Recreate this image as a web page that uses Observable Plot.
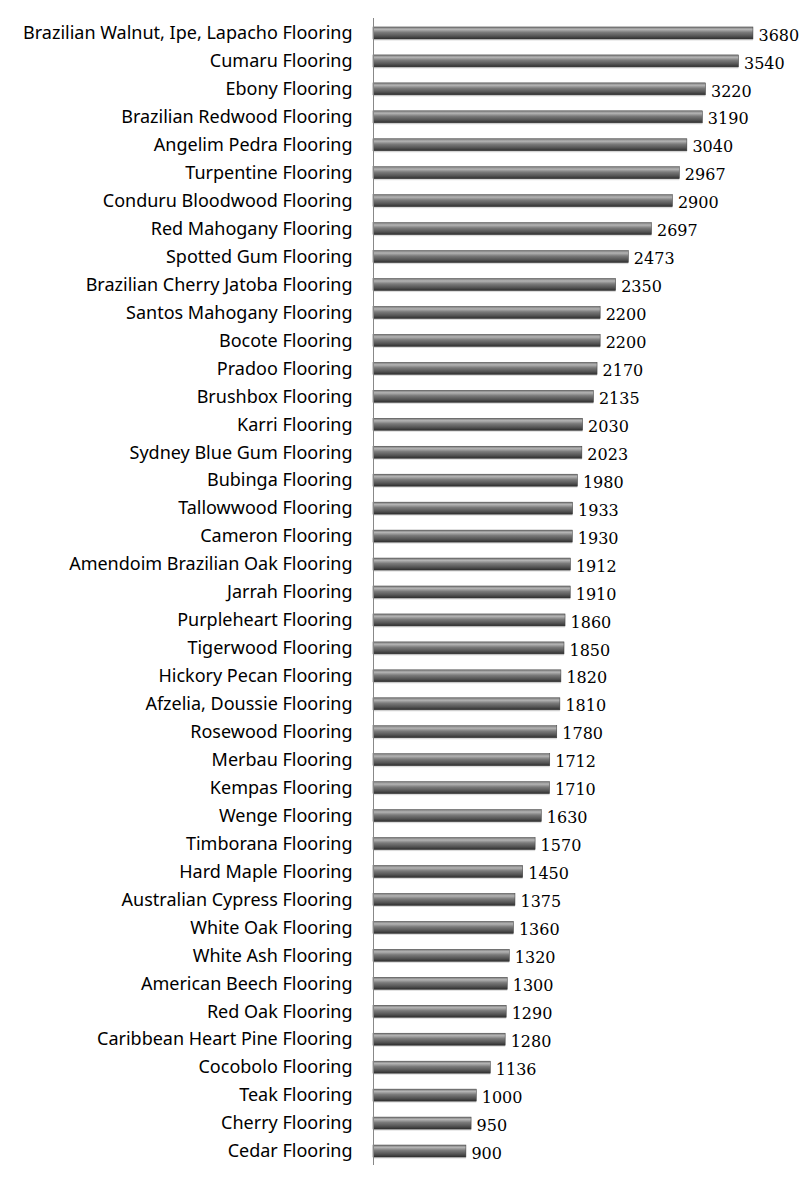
<!DOCTYPE html>
<html>
<head>
<meta charset="utf-8">
<script src="https://cdn.jsdelivr.net/npm/d3@7"></script>
<script src="https://cdn.jsdelivr.net/npm/@observablehq/plot@0.6"></script>
<style>
  html, body { margin: 0; padding: 0; background: #fff; }
</style>
</head>
<body>
<div id="chart"></div>
<script>
const categories = [
  "Brazilian Walnut, Ipe, Lapacho Flooring", "Cumaru Flooring", "Ebony Flooring",
  "Brazilian Redwood Flooring", "Angelim Pedra Flooring", "Turpentine Flooring",
  "Conduru Bloodwood Flooring", "Red Mahogany Flooring", "Spotted Gum Flooring",
  "Brazilian Cherry Jatoba Flooring", "Santos Mahogany Flooring", "Bocote Flooring",
  "Pradoo Flooring", "Brushbox Flooring", "Karri Flooring", "Sydney Blue Gum Flooring",
  "Bubinga Flooring", "Tallowwood Flooring", "Cameron Flooring",
  "Amendoim Brazilian Oak Flooring", "Jarrah Flooring", "Purpleheart Flooring",
  "Tigerwood Flooring", "Hickory Pecan Flooring", "Afzelia, Doussie Flooring",
  "Rosewood Flooring", "Merbau Flooring", "Kempas Flooring", "Wenge Flooring",
  "Timborana Flooring", "Hard Maple Flooring", "Australian Cypress Flooring",
  "White Oak Flooring", "White Ash Flooring", "American Beech Flooring",
  "Red Oak Flooring", "Caribbean Heart Pine Flooring", "Cocobolo Flooring",
  "Teak Flooring", "Cherry Flooring", "Cedar Flooring"
];
const hardness = [
  3680, 3540, 3220, 3190, 3040, 2967, 2900, 2697, 2473, 2350, 2200, 2200, 2170, 2135,
  2030, 2023, 1980, 1933, 1930, 1912, 1910, 1860, 1850, 1820, 1810, 1780, 1712, 1710,
  1630, 1570, 1450, 1375, 1360, 1320, 1300, 1290, 1280, 1136, 1000, 950, 900
];
const data = categories.map((name, i) => ({name, value: hardness[i]}));

const plot = Plot.plot({
  width: 804,
  height: 1186,
  marginLeft: 373,
  marginRight: 18,
  marginTop: 19,
  marginBottom: 21,
  style: {background: "#fff", overflow: "visible"},
  x: {domain: [0, 4000], axis: null},
  y: {domain: categories, paddingInner: 0.57, paddingOuter: 0.285, label: null},
  marks: [
    Plot.axisY({
      tickSize: 0, tickPadding: 21, label: null,
      fontSize: 18, fill: "#000",
      style: {fontFamily: "Lato, 'Open Sans', sans-serif"}
    }),
    Plot.barX(data, {x: 0, x2: "value", y: "name", dy: 1.5, fill: "#999", fillOpacity: 0.35}),
    Plot.barX(data, {x: 0, x2: "value", y: "name", fill: "url(#barGrad)", stroke: "#3a3a3a", strokeWidth: 0.5}),
    Plot.tickX(data, {x: "value", y: "name", dx: -1.5, stroke: "url(#capGrad)", strokeWidth: 2.5, insetTop: 0.5, insetBottom: 0.5}),
    Plot.text(data, {
      x: "value", y: "name", text: d => String(d.value), dx: 5, dy: 2,
      textAnchor: "start", fontSize: 16, fill: "#000",
      fontFamily: "'DejaVu Serif', serif"
    }),
    Plot.ruleX([0], {stroke: "#888", strokeWidth: 1, insetTop: -1})
  ]
});

// gradient definitions for the shaded bars
const svgNS = "http://www.w3.org/2000/svg";
const defs = document.createElementNS(svgNS, "defs");
defs.innerHTML = `
  <linearGradient id="barGrad" x1="0" y1="0" x2="0" y2="1">
    <stop offset="0" stop-color="#7a7a7a"/>
    <stop offset="0.2" stop-color="#b4b4b4"/>
    <stop offset="0.45" stop-color="#7a7a7a"/>
    <stop offset="0.75" stop-color="#555555"/>
    <stop offset="1" stop-color="#2e2e2e"/>
  </linearGradient>
  <linearGradient id="capGrad" x1="0" y1="0" x2="0" y2="1" gradientUnits="objectBoundingBox">
    <stop offset="0" stop-color="#c8c8c8"/>
    <stop offset="0.5" stop-color="#9a9a9a"/>
    <stop offset="1" stop-color="#555555"/>
  </linearGradient>`;
plot.insertBefore(defs, plot.firstChild);
document.getElementById("chart").appendChild(plot);
</script>
</body>
</html>
